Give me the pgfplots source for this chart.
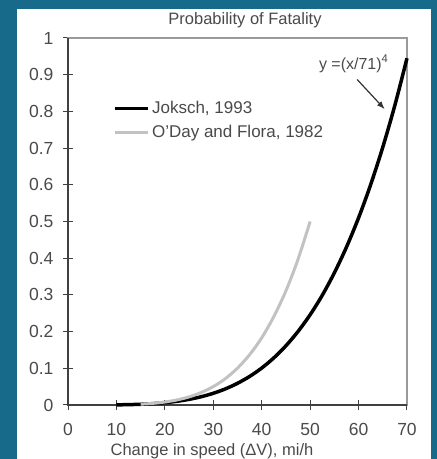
\documentclass[border=0pt]{standalone}
\usepackage{pgfplots}
\pgfplotsset{compat=1.18}
\usetikzlibrary{arrows.meta}
\usepackage{fontspec}
\setmainfont{Liberation Sans}
\definecolor{bgblue}{HTML}{176A8A}
\definecolor{txt}{HTML}{4A4A4A}
\definecolor{lgray}{HTML}{C2C2C2}
\definecolor{boxgray}{HTML}{9A9A9A}
\begin{document}
\begin{tikzpicture}[x=1pt,y=1pt]
\fill[bgblue] (0,0) rectangle (437,459);
\fill[white] (17,0) rectangle (431,450);
\begin{axis}[
  at={(68pt,54pt)}, anchor=south west,
  scale only axis, width=339pt, height=367pt,
  xmin=0, xmax=70, ymin=0, ymax=1,
  xtick={0,10,20,30,40,50,60,70},
  ytick={0,0.1,0.2,0.3,0.4,0.5,0.6,0.7,0.8,0.9,1},
  xtick pos=left, ytick pos=left,
  tick align=center, major tick length=10pt,
  tick style={black!75, line width=1pt},
  axis line style={boxgray, line width=1.3pt},
  /pgf/number format/assume math mode=true,
  ticklabel style={font=\fontsize{17.5}{20}\selectfont, text=txt},
  xticklabel style={yshift=-10pt},
  yticklabel style={xshift=-6pt},
  legend style={at={(rel axis cs:0.125,0.838)}, anchor=north west, draw=none, fill=none,
    font=\fontsize{17}{20}\selectfont, text=txt, row sep=6pt},
  legend cell align=left,
  legend image code/.code={\draw[#1] (0pt,0pt) -- (33pt,0pt);},
  clip=false,
]
\draw[black!75, line width=1.5pt] (rel axis cs:0,1) -- (rel axis cs:0,0) -- (rel axis cs:1,0);
\addplot[black, line width=3.5pt, smooth] coordinates {
 (10,0.0004) (12.5,0.0010) (15,0.0020) (17.5,0.0037) (20,0.0063) (22.5,0.0101) (25,0.0154)
 (27.5,0.0225) (30,0.0319) (32.5,0.0439) (35,0.0591) (37.5,0.0778) (40,0.1007)
 (42.5,0.1284) (45,0.1614) (47.5,0.2004) (50,0.2459) (52.5,0.2989) (55,0.3601)
 (57.5,0.4302) (60,0.5100) (62.5,0.6005) (65,0.7025) (67.5,0.8169) (70,0.9449)
};
\addlegendentry{Joksch, 1993}
\addplot[lgray, line width=3pt, smooth] coordinates {
 (15,0.0022) (17.5,0.0044) (20,0.0081) (22.5,0.0138) (25,0.0221) (27.5,0.0340)
 (30,0.0502) (32.5,0.0718) (35,0.1004) (37.5,0.1370) (40,0.1830) (42.5,0.2410)
 (45,0.3110) (47.5,0.3970) (50,0.5000)
};
\addlegendentry{O'Day and Flora, 1982}
\node[font=\fontsize{16}{18}\selectfont, text=txt] at (axis cs:59,0.93) {y =(x/71)\textsuperscript{4}};
\draw[-{Latex[length=8pt,width=6pt]}, black!80, line width=1.2pt] (axis cs:59.7,0.887) -- (axis cs:65.4,0.806);
\end{axis}
\node[font=\fontsize{16.5}{18}\selectfont, text=txt] at (245,439) {Probability of Fatality};
\node[font=\fontsize{16.5}{18}\selectfont, text=txt, anchor=base, inner sep=0pt] at (212,3.8) {Change in speed (ΔV), mi/h};
\pgfresetboundingbox
\useasboundingbox (0,0) rectangle (437,459);
\end{tikzpicture}
\end{document}
